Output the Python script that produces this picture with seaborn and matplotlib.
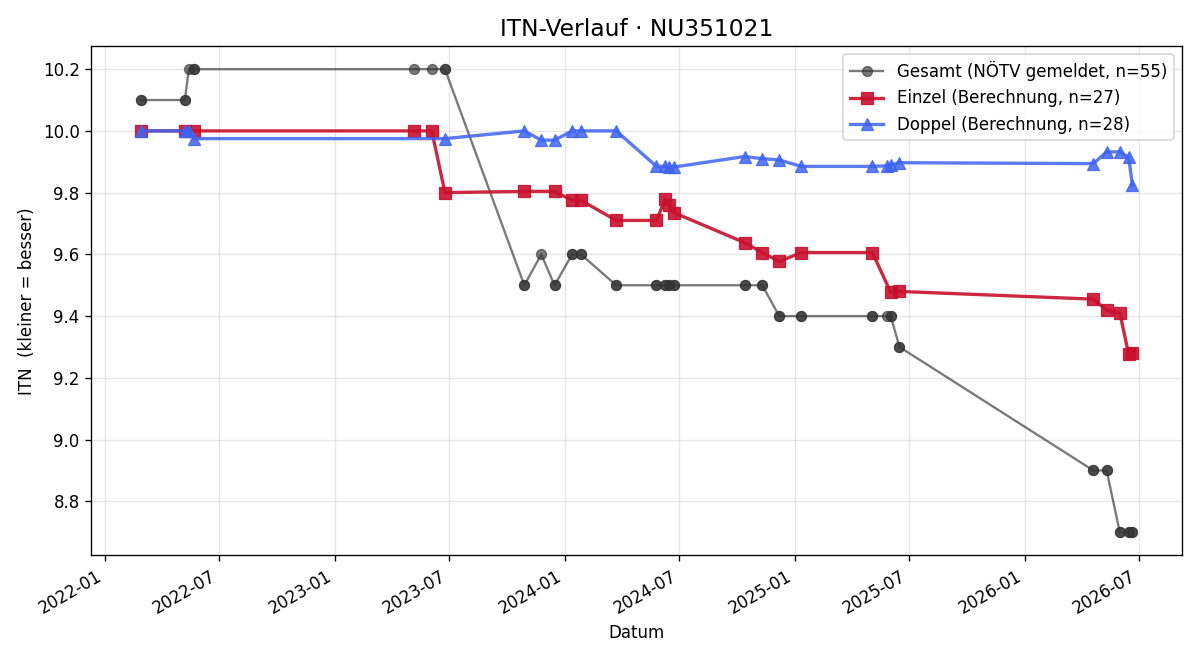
import pandas as pd
import seaborn as sns
import matplotlib.pyplot as plt
import matplotlib.dates as mdates

# Einzel (singles) ratings
einzel_dates = ['2022-02-27', '2022-05-08', '2022-05-22', '2023-05-07', '2023-06-04',
                '2023-06-25', '2023-10-29', '2023-12-16', '2024-01-13', '2024-01-27',
                '2024-03-23', '2024-05-26', '2024-06-09', '2024-06-15', '2024-06-23',
                '2024-10-13', '2024-11-10', '2024-12-07', '2025-01-11', '2025-05-04',
                '2025-06-02', '2025-06-16', '2026-04-20', '2026-05-11', '2026-06-01',
                '2026-06-15', '2026-06-21']
einzel_itn = [10.0, 10.0, 10.0, 10.0, 10.0,
              9.80, 9.804, 9.804, 9.775, 9.775,
              9.71, 9.71, 9.78, 9.76, 9.735,
              9.638, 9.606, 9.577, 9.606, 9.606,
              9.477, 9.48, 9.455, 9.42, 9.41,
              9.277, 9.28]

# Doppel (doubles) ratings
doppel_dates = ['2022-02-27', '2022-05-08', '2022-05-14', '2022-05-22', '2023-06-25',
                '2023-10-29', '2023-11-25', '2023-12-16', '2024-01-13', '2024-01-27',
                '2024-03-23', '2024-05-26', '2024-06-09', '2024-06-15', '2024-06-23',
                '2024-10-13', '2024-11-10', '2024-12-07', '2025-01-11', '2025-05-04',
                '2025-05-27', '2025-06-02', '2025-06-16', '2026-04-20', '2026-05-11',
                '2026-06-01', '2026-06-15', '2026-06-21']
doppel_itn = [10.0, 10.0, 10.0, 9.975, 9.975,
              10.0, 9.97, 9.97, 10.0, 10.0,
              10.0, 9.885, 9.885, 9.883, 9.883,
              9.917, 9.91, 9.906, 9.885, 9.885,
              9.887, 9.89, 9.897, 9.894, 9.932,
              9.932, 9.915, 9.824]

# Gesamt (reported overall ITN) per date
gesamt_lookup = {
    '2022-02-27': 10.1, '2022-05-08': 10.1, '2022-05-14': 10.2, '2022-05-22': 10.2,
    '2023-05-07': 10.2, '2023-06-04': 10.2, '2023-06-25': 10.2, '2023-10-29': 9.5,
    '2023-11-25': 9.6, '2023-12-16': 9.5, '2024-01-13': 9.6, '2024-01-27': 9.6,
    '2024-03-23': 9.5, '2024-05-26': 9.5, '2024-06-09': 9.5, '2024-06-15': 9.5,
    '2024-06-23': 9.5, '2024-10-13': 9.5, '2024-11-10': 9.5, '2024-12-07': 9.4,
    '2025-01-11': 9.4, '2025-05-04': 9.4, '2025-05-27': 9.4, '2025-06-02': 9.4,
    '2025-06-16': 9.3, '2026-04-20': 8.9, '2026-05-11': 8.9, '2026-06-01': 8.7,
    '2026-06-15': 8.7, '2026-06-21': 8.7,
}

ein = pd.DataFrame({'Datum': pd.to_datetime(einzel_dates), 'ITN': einzel_itn})
dop = pd.DataFrame({'Datum': pd.to_datetime(doppel_dates), 'ITN': doppel_itn})
ges_dates = sorted(einzel_dates + doppel_dates)
ges = pd.DataFrame({'Datum': pd.to_datetime(ges_dates),
                    'ITN': [gesamt_lookup[d] for d in ges_dates]})

fig, ax = plt.subplots(figsize=(10, 5.5), dpi=120)

sns.lineplot(data=ges, x='Datum', y='ITN', estimator=None, ax=ax, color='#333333', alpha=0.65,
             marker='o', markersize=6, markeredgecolor='#333333', linewidth=1.4,
             label=f'Gesamt (NÖTV gemeldet, n={len(ges)})')
sns.lineplot(data=ein, x='Datum', y='ITN', estimator=None, ax=ax, color='#C8102E', alpha=0.9,
             marker='s', markersize=7, markeredgecolor='#C8102E', linewidth=2,
             label=f'Einzel (Berechnung, n={len(ein)})')
sns.lineplot(data=dop, x='Datum', y='ITN', estimator=None, ax=ax, color='#3F63F0', alpha=0.85,
             marker='^', markersize=7, markeredgecolor='#3F63F0', linewidth=2,
             label=f'Doppel (Berechnung, n={len(dop)})')

ax.set_title('ITN-Verlauf · NU351021', fontsize=14)
ax.set_xlabel('Datum')
ax.set_ylabel('ITN  (kleiner = besser)')
ax.grid(True, alpha=0.3)
ax.xaxis.set_major_locator(mdates.MonthLocator(bymonth=[1, 7]))
ax.xaxis.set_major_formatter(mdates.DateFormatter('%Y-%m'))
ax.legend(loc='upper right')
fig.autofmt_xdate()
fig.tight_layout()
fig.savefig('out.png')
